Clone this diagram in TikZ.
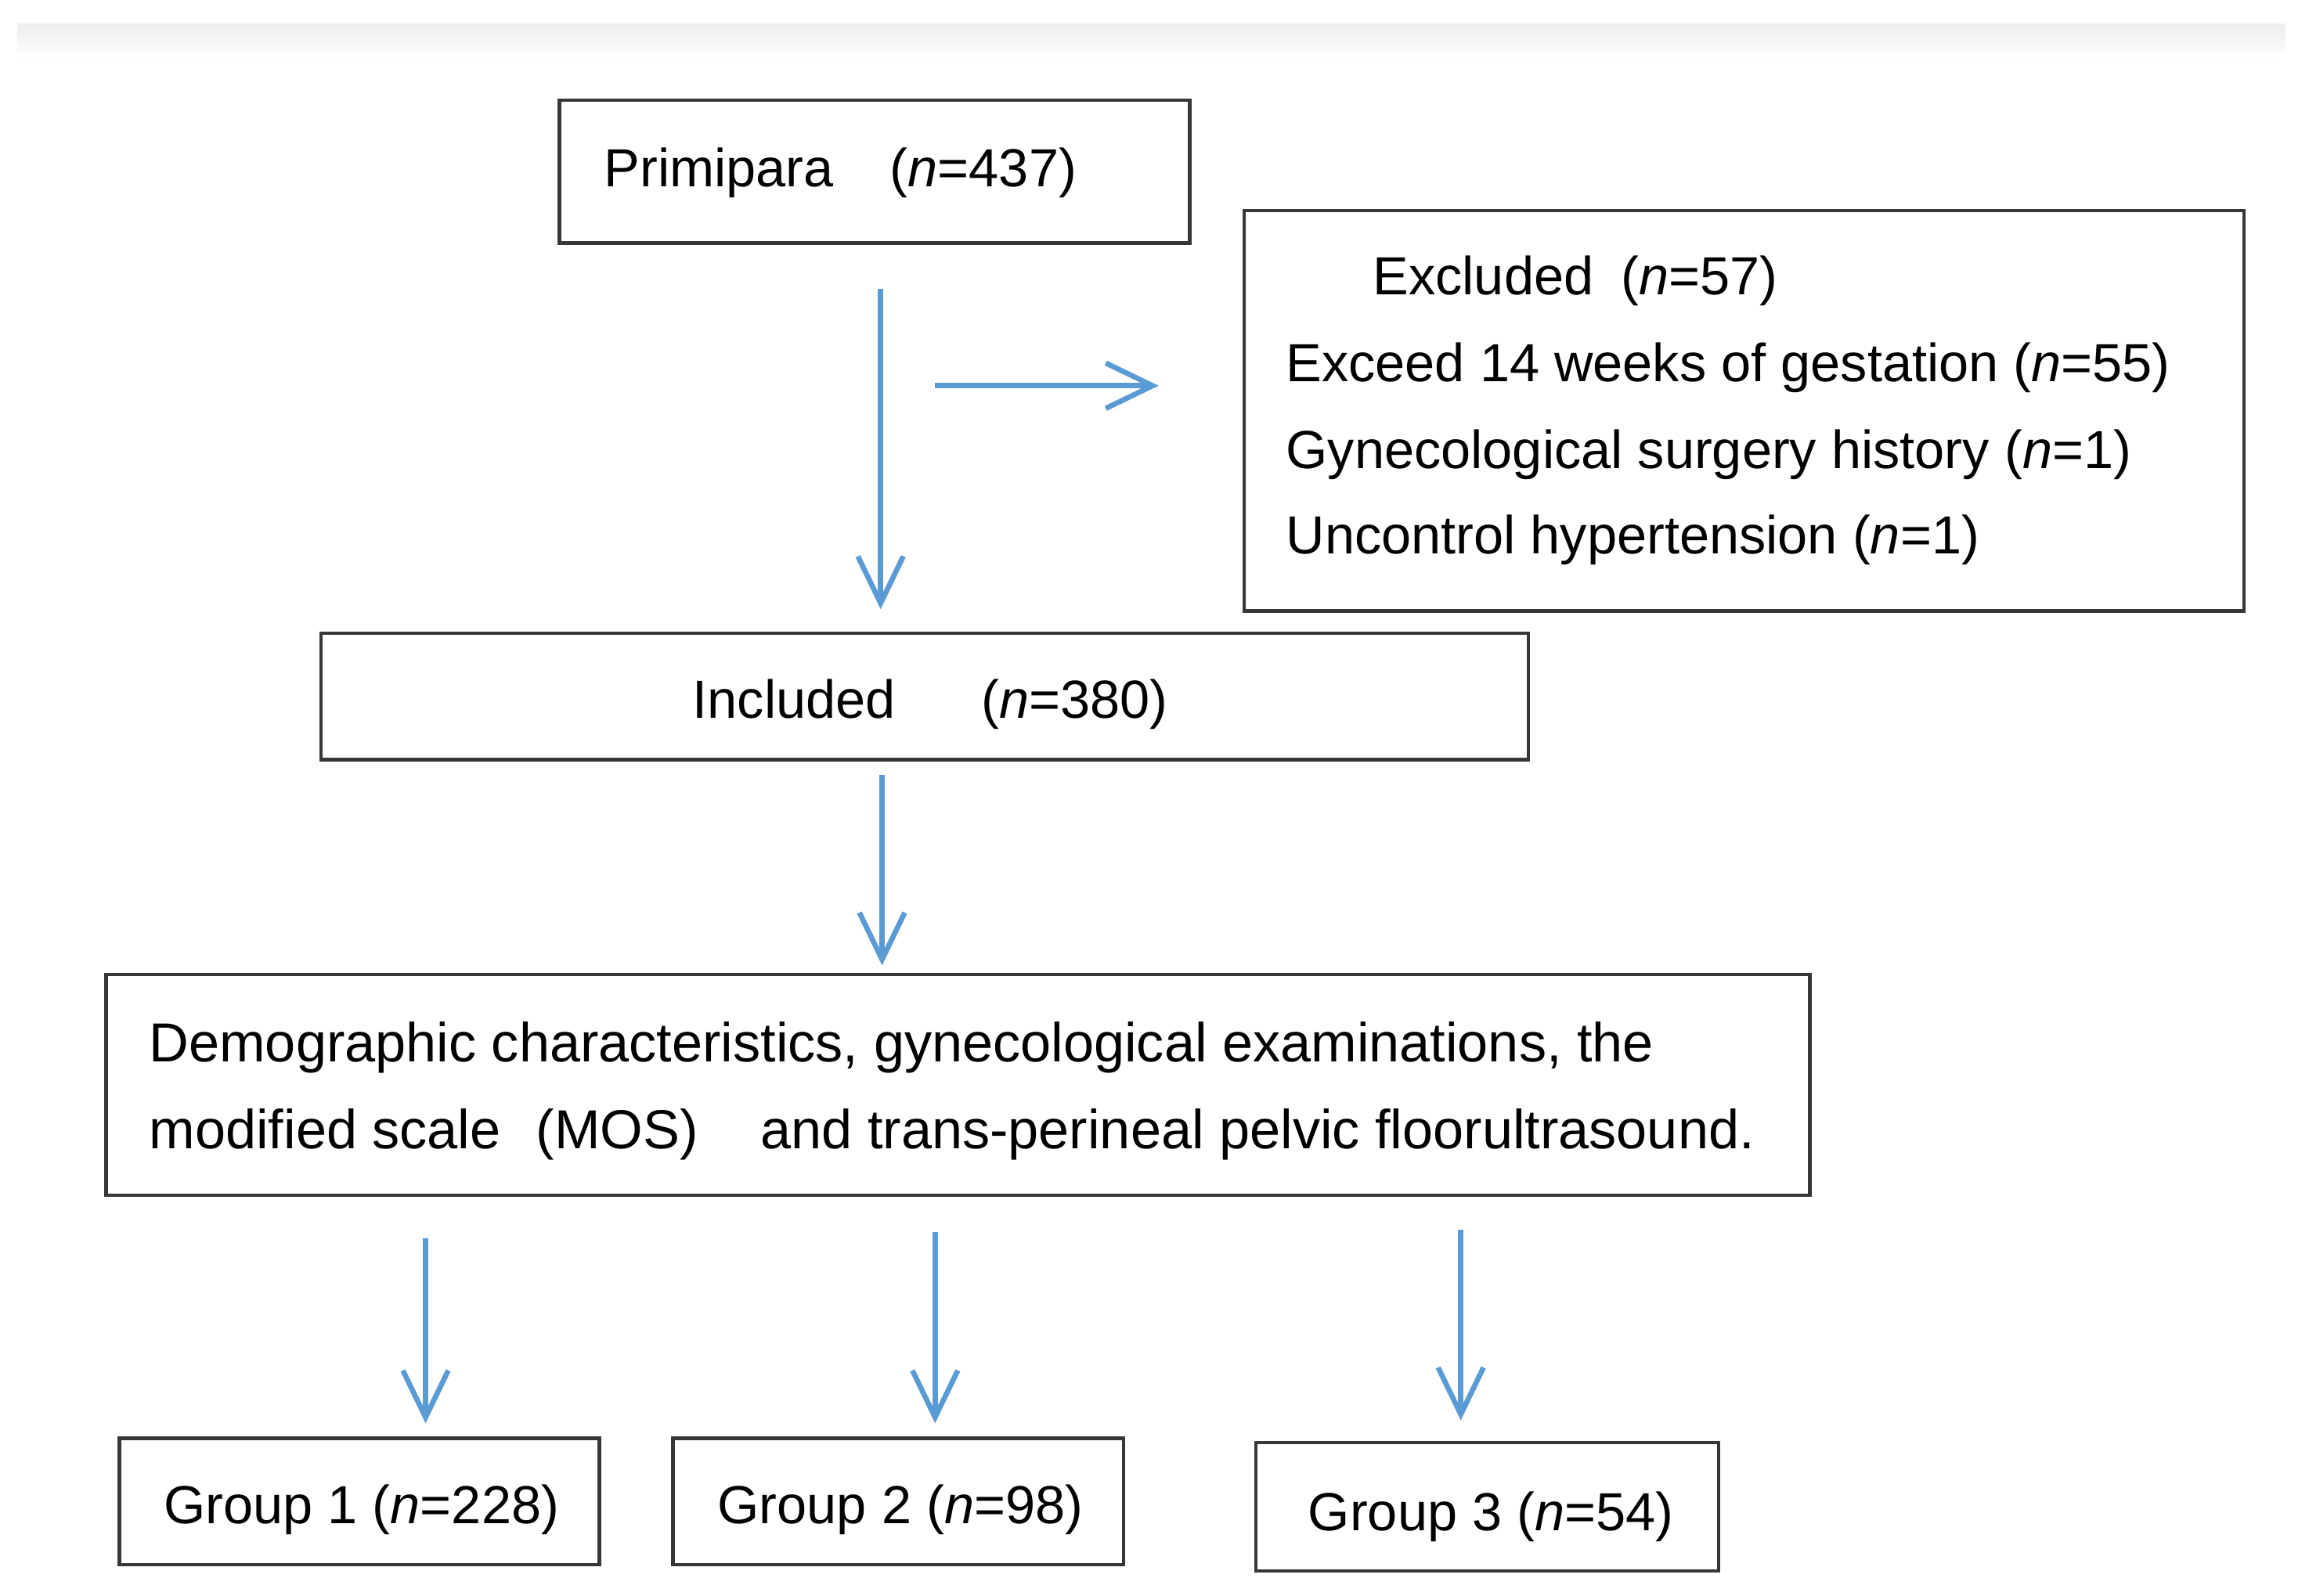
\documentclass[tikz,border=0pt]{standalone}
\usepackage{fontspec}
\setmainfont{Liberation Sans}
\usetikzlibrary{arrows.meta,fit}
\definecolor{arrblue}{RGB}{91,155,213}
\definecolor{boxgray}{RGB}{55,55,55}
\begin{document}
\begin{tikzpicture}[x=0.018807cm,y=-0.018807cm,
  box/.style={draw=boxgray, line width=1.25pt, inner sep=0pt, rectangle},
  txt/.style={anchor=base west, inner sep=0pt, font=\fontsize{19.5pt}{23pt}\selectfont},
  demotxt/.style={txt, font=\fontsize{20pt}{24pt}\selectfont},
  arr/.style={draw=arrblue, line width=1.9pt, -{Straight Barb[length=0.6cm,width=0.58cm]}}]
\useasboundingbox (0,0) rectangle (1568,1084);
% top band
\shade[top color=black!7, bottom color=white] (12,16) rectangle (1552,40);
% boxes
\node[box, fit={(380,68) (808,165)}] (prim) {};
\node[box, fit={(845,143) (1524,415)}] (excl) {};
\node[box, fit={(218,430) (1038,516)}] (incl) {};
\node[box, fit={(72,662) (1229,812)}] (demo) {};
\node[box, fit={(81,977) (407,1063)}] (g1) {};
\node[box, fit={(457,977) (763,1063)}] (g2) {};
\node[box, fit={(853,980) (1167,1067)}] (g3) {};
% texts
\node[txt] (tprim) at (410,127) {Primipara\hspace{0.72cm}(\textit{n}=437)};
\node[txt] (tex0) at (932,200) {Excluded\hspace{0.35cm}(\textit{n}=57)};
\node[txt] (tex1) at (873,259) {Exceed 14 weeks of gestation (\textit{n}=55)};
\node[txt] (tex2) at (873,318) {Gynecological surgery history (\textit{n}=1)};
\node[txt] (tex3) at (873,376) {Uncontrol hypertension (\textit{n}=1)};
\node[txt] (tincl) at (470,488) {Included\hspace{1.1cm}(\textit{n}=380)};
\node[demotxt] (td1) at (101,721) {Demographic characteristics, gynecological examinations, the};
\node[demotxt] (td2) at (101,780) {modified scale\hspace{0.45cm}(MOS)\hspace{0.8cm}and trans-perineal pelvic floorultrasound.};
\node[txt] (tg1) at (111,1035) {Group 1 (\textit{n}=228)};
\node[txt] (tg2) at (487,1035) {Group 2 (\textit{n}=98)};
\node[txt] (tg3) at (888,1040) {Group 3 (\textit{n}=54)};
% arrow columns
\coordinate (ca) at (598,0);
\coordinate (branch) at (598,262);
\coordinate (cc) at (599,0);
\coordinate (cd) at (289,0);
\coordinate (ce) at (635,0);
\coordinate (cf) at (992,0);
\draw[arr, shorten <=0.564cm, shorten >=0.282cm] (prim.south -| ca) -- (incl.north -| ca);
\draw[arr, shorten <=0.696cm, shorten >=1.072cm] (branch) -- (excl.west |- branch);
\draw[arr, shorten <=0.169cm, shorten >=0.094cm] (incl.south -| cc) -- (demo.north -| cc);
\draw[arr, shorten <=0.527cm, shorten >=0.169cm] (demo.south -| cd) -- (g1.north -| cd);
\draw[arr, shorten <=0.451cm, shorten >=0.169cm] (demo.south -| ce) -- (g2.north -| ce);
\draw[arr, shorten <=0.414cm, shorten >=0.263cm] (demo.south -| cf) -- (g3.north -| cf);
\end{tikzpicture}
\end{document}
